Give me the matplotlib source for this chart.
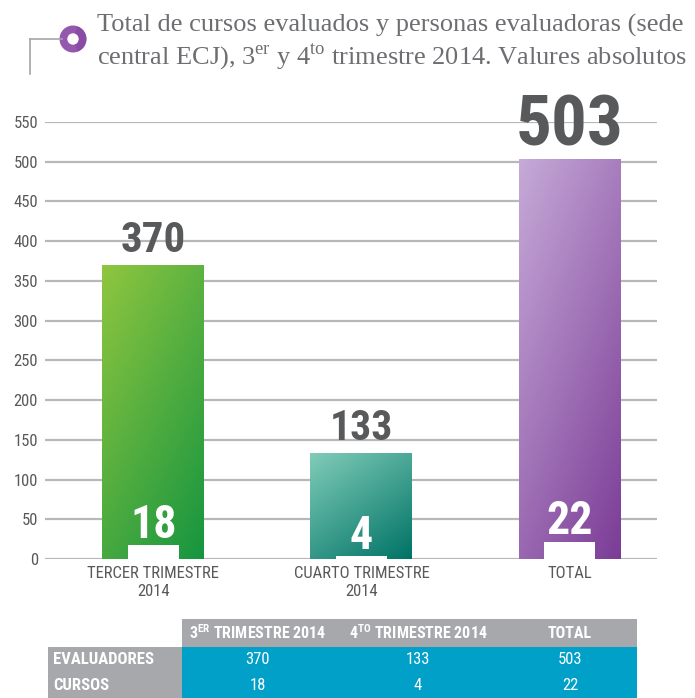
import numpy as np
import matplotlib
matplotlib.use("Agg")
import matplotlib.pyplot as plt
from matplotlib.patches import Rectangle, Circle, Wedge
from matplotlib.colors import to_rgb
from matplotlib.lines import Line2D

# data
categories = ["TERCER TRIMESTRE\n2014", "CUARTO TRIMESTRE\n2014", "TOTAL"]
evaluadores = [370, 133, 503]
cursos = [18, 4, 22]
yticks = list(range(0, 551, 50))
table_header = [r"3$^{\mathbf{ER}}$ TRIMESTRE 2014", r"4$^{\mathbf{TO}}$ TRIMESTRE 2014", "TOTAL"]
row_labels = ["EVALUADORES", "CURSOS"]

bar_colors = [("#8fc640", "#16953f"), ("#80ccb8", "#007366"), ("#c6aad8", "#7b3c96")]

plt.rcParams["mathtext.fontset"] = "custom"
plt.rcParams["mathtext.rm"] = "Liberation Serif"
plt.rcParams["mathtext.bf"] = "Roboto Condensed:bold"
cond = ["Roboto Condensed", "DejaVu Sans"]
gray_txt = "#58595b"

W, H = 695, 698
fig = plt.figure(figsize=(W / 100, H / 100), dpi=100)
ax = fig.add_axes([45 / W, 1 - 559 / H, 612 / W, 437 / H])

x = np.arange(len(categories))
bw = 0.49
top_sizes = [31, 30, 51]

for i, (v, c) in enumerate(zip(evaluadores, cursos)):
    c0, c1 = np.array(to_rgb(bar_colors[i][0])), np.array(to_rgb(bar_colors[i][1]))
    u, vv = np.meshgrid(np.linspace(0, 1, 60), np.linspace(0, 1, 200))
    t = (u * 0.8 + (1 - vv) * 1.2) / 2.0
    img = c0[None, None, :] * (1 - t[..., None]) + c1[None, None, :] * t[..., None]
    ax.imshow(img, extent=(x[i] - bw / 2, x[i] + bw / 2, 0, v), origin="lower",
              aspect="auto", zorder=2, interpolation="bilinear")
    ax.bar(x[i], c, width=bw / 2, color="white", zorder=3)
    ax.text(x[i], v + 17, str(v), ha="center", va="baseline", family=cond,
            fontweight="bold", fontsize=top_sizes[i], color=gray_txt, zorder=4)
    ax.text(x[i], c + 9, str(c), ha="center", va="baseline", family=cond,
            fontweight="bold", fontsize=33, color="white", zorder=4)

ax.set_xlim(-0.52, 2.42)
ax.set_ylim(0, 550)
ax.set_yticks(yticks)
ax.set_yticklabels([str(t) for t in yticks], family=cond, fontsize=12, color=gray_txt)
ax.set_xticks(x)
ax.set_xticklabels(categories, family=cond, fontsize=12, color=gray_txt, linespacing=1.25)
ax.tick_params(length=0, pad=5)
ax.tick_params(axis="x", pad=5)
for s in ax.spines.values():
    s.set_visible(False)
ax.grid(axis="y", color="#b8b8b8", lw=1.6, zorder=0)
ax.set_axisbelow(True)

# title with icon
fig.add_artist(Line2D([30 / W, 62 / W], [1 - 39 / H, 1 - 39 / H], color="#a6a6a6", lw=1.2))
fig.add_artist(Line2D([30 / W, 30 / W], [1 - 39 / H, 1 - 74 / H], color="#a6a6a6", lw=1.2))
ax_icon = fig.add_axes([55 / W, 1 - 57 / H, 36 / W, 36 / H])
ax_icon.set_xlim(-1.2, 1.2)
ax_icon.set_ylim(-1.2, 1.2)
ax_icon.set_aspect("equal")
ax_icon.axis("off")
ax_icon.add_patch(Circle((0, 0), 0.9, color="#9459ae", lw=0))
ax_icon.add_patch(Wedge((0, 0), 0.9, -70, 70, color="#7d3b98", lw=0, alpha=0.45))
ax_icon.add_patch(Circle((0, 0), 0.38, color="white", lw=0))

fig.text(97 / W, 1 - 25 / H, "Total de cursos evaluados y personas evaluadoras (sede",
         family=["Liberation Serif"], fontsize=19, color="#6d6e71", va="center")
fig.text(97 / W, 1 - 57 / H,
         r"central ECJ), 3$^{\mathrm{er}}$ y 4$^{\mathrm{to}}$ trimestre 2014. Valures absolutos",
         family=["Liberation Serif"], fontsize=19, color="#6d6e71", va="center")

# table
col_x = [48, 182, 333, 503, 637]
row_y = [619, 647, 672, 698]
hdr_gray = "#a7a8ab"
blue = "#00a0c9"
fig.add_artist(Rectangle((col_x[1] / W, 1 - row_y[1] / H), (col_x[4] - col_x[1]) / W,
                         (row_y[1] - row_y[0]) / H, transform=fig.transFigure, color=hdr_gray, lw=0))
fig.add_artist(Rectangle((col_x[0] / W, 0), (col_x[1] - col_x[0]) / W,
                         (H - row_y[1]) / H, transform=fig.transFigure, color=hdr_gray, lw=0))
fig.add_artist(Rectangle((col_x[1] / W, 0), (col_x[4] - col_x[1]) / W,
                         (H - row_y[1]) / H, transform=fig.transFigure, color=blue, lw=0))
for j, h in enumerate(table_header):
    cx = (col_x[j + 1] + col_x[j + 2]) / 2
    fig.text(cx / W, 1 - (row_y[0] + 14) / H, h, ha="center", va="center", family=cond,
             fontweight="bold", fontsize=11.5, color="white", math_fontfamily="custom")
rows = [evaluadores, cursos]
row_centres = [660, 685]
for r, (lab, vals) in enumerate(zip(row_labels, rows)):
    yc = 1 - row_centres[r] / H
    fig.text(53 / W, yc, lab, ha="left", va="center", family=cond,
             fontweight="bold", fontsize=12, color="white")
    for j, v in enumerate(vals):
        cx = (col_x[j + 1] + col_x[j + 2]) / 2
        fig.text(cx / W, yc, str(v), ha="center", va="center", family=cond,
                 fontsize=12, color="white")

fig.savefig("out.png", dpi=100)
